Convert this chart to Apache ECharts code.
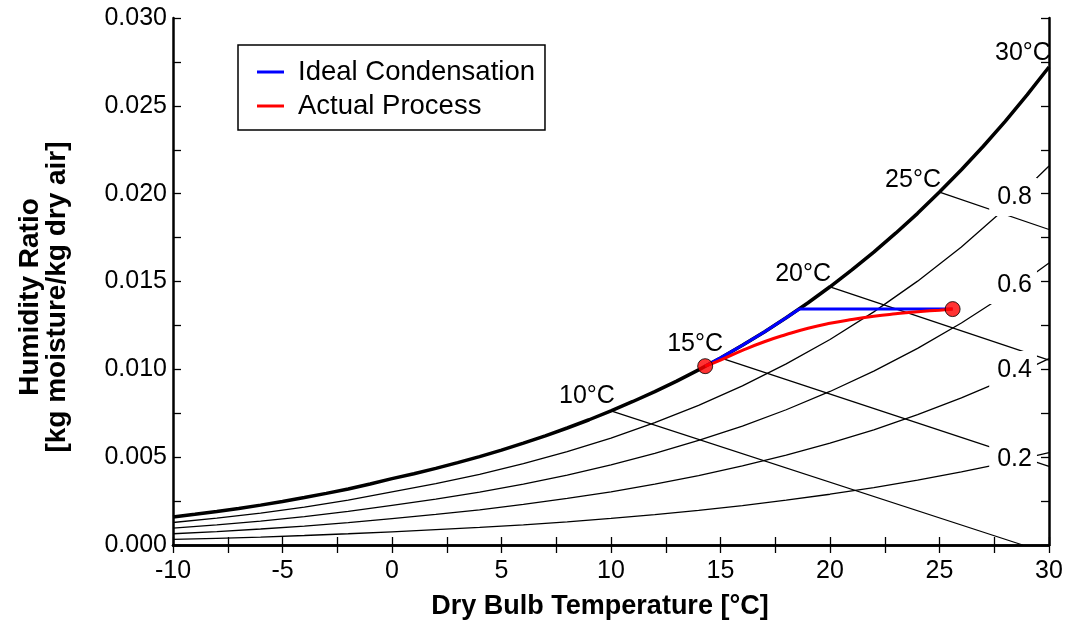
<!DOCTYPE html>
<html>
<head>
<meta charset="utf-8">
<script src="https://cdn.jsdelivr.net/npm/echarts@6/dist/echarts.min.js"></script>
<style>html,body{margin:0;padding:0;background:#fff}#c{width:1067px;height:630px}</style>
</head>
<body>
<div id="c"></div>
<script>
// ---- data ----
const satT = [-10,-9,-8,-7,-6,-5,-4,-3,-2,-1,0,1,2,3,4,5,6,7,8,9,10,11,12,13,14,15,16,17,18,19,20,21,22,23,24,25,26,27,28,29,30];
const satW = [0.00160,0.00175,0.00191,0.00208,0.00227,0.00248,0.00270,0.00294,0.00319,0.00347,0.00378,0.00406,0.00436,0.00469,0.00503,0.00540,0.00580,0.00621,0.00666,0.00713,0.00763,0.00817,0.00873,0.00933,0.00997,0.01065,0.01137,0.01213,0.01294,0.01379,0.01470,0.01566,0.01667,0.01775,0.01888,0.02009,0.02136,0.02270,0.02412,0.02562,0.02721];
const rhT = [-10,-8,-6,-4,-2,0,2,4,6,8,10,12,14,16,18,20,22,24,26,28,30];
const rh80 = [0.00128,0.00153,0.00182,0.00216,0.00255,0.00302,0.00349,0.00402,0.00463,0.00531,0.00609,0.00697,0.00795,0.00906,0.01031,0.01170,0.01327,0.01502,0.01697,0.01915,0.02158];
const rh60 = [0.00096,0.00114,0.00136,0.00162,0.00191,0.00226,0.00261,0.00301,0.00346,0.00398,0.00456,0.00521,0.00595,0.00677,0.00770,0.00874,0.00990,0.01119,0.01264,0.01425,0.01605];
const rh40 = [0.00064,0.00076,0.00091,0.00108,0.00127,0.00150,0.00174,0.00200,0.00231,0.00265,0.00303,0.00346,0.00395,0.00450,0.00511,0.00580,0.00656,0.00742,0.00837,0.00943,0.01061];
const rh20 = [0.00032,0.00038,0.00045,0.00054,0.00064,0.00075,0.00087,0.00100,0.00115,0.00132,0.00151,0.00173,0.00197,0.00224,0.00255,0.00289,0.00327,0.00369,0.00416,0.00468,0.00526];
// constant wet-bulb lines: [start T, start w, end T, end w]
const wb10 = [10, 0.00763, 28.8, 0.0];
const wb15 = [15, 0.01065, 30, 0.00448];
const wb20 = [20, 0.01470, 30, 0.01052];
const wb25 = [25, 0.02009, 30, 0.01796];
// process paths
const idealT = [25.6, 18.6, 18, 17, 16, 15, 14.3];
const idealW = [0.01343, 0.01343, 0.01294, 0.01213, 0.01137, 0.01065, 0.01018];
const actualT = [14.3, 15, 16, 17, 18, 19, 20, 21, 22, 23, 24, 25, 25.6];
const actualW = [0.01018, 0.01053, 0.01108, 0.01157, 0.01198, 0.01234, 0.01262, 0.01284, 0.01302, 0.01316, 0.01328, 0.01337, 0.01343];
const stateT = [14.3, 25.6];
const stateW = [0.01018, 0.01343];
// annotation labels
const wbLabels = [[8.9, 0.00848, '10°C'], [13.84, 0.01144, '15°C'], [18.77, 0.01543, '20°C'], [23.79, 0.02075, '25°C'], [28.81, 0.02801, '30°C']];
const rhLabels = [[28.36, 0.01981, '0.8'], [28.36, 0.01480, '0.6'], [28.36, 0.00996, '0.4'], [28.36, 0.00490, '0.2']];
const xTicks = [-10, -5, 0, 5, 10, 15, 20, 25, 30];
const yTicks = [0, 0.005, 0.010, 0.015, 0.020, 0.025, 0.030];

// ---- chart ----
const FONT = '"Liberation Sans", Arial, sans-serif';
const zip = (a, b) => a.map((v, i) => [v, b[i]]);
const seg = s => [[s[0], s[1]], [s[2], s[3]]];
const thin = (name, data) => ({
  name, type: 'line', data, symbol: 'none', silent: true, z: 2,
  lineStyle: { color: '#000', width: 1.3 }
});
const chart = echarts.init(document.getElementById('c'), null, { renderer: 'canvas' });
const axisCommonX = {
  type: 'value', min: xTicks[0], max: xTicks[xTicks.length - 1], interval: 5,
  axisLine: { show: true, lineStyle: { color: '#000', width: 2.5 } },
  axisTick: { show: true, inside: true, length: 8, lineStyle: { color: '#000', width: 1.3 } },
  minorTick: { show: true, splitNumber: 2, length: 8, lineStyle: { color: '#000', width: 1.3 } },
  splitLine: { show: false }
};
const axisCommonY = {
  type: 'value', min: yTicks[0], max: yTicks[yTicks.length - 1], interval: 0.005,
  axisLine: { show: true, onZero: false, lineStyle: { color: '#000', width: 2.5 } },
  axisTick: { show: true, inside: true, length: 8, lineStyle: { color: '#000', width: 1.3 } },
  minorTick: { show: true, splitNumber: 2, length: 8, lineStyle: { color: '#000', width: 1.3 } },
  splitLine: { show: false }
};
const labelSeries = (name, rows, z, extra) => ({
  name, type: 'scatter', data: rows.map(d => ({ value: [d[0], d[1]], name: d[2] })),
  symbol: 'circle', symbolSize: 0, itemStyle: { color: '#000', opacity: 1 }, silent: true, z, clip: false,
  label: Object.assign({ show: true, position: 'inside', formatter: p => p.name, color: '#000', opacity: 1,
    fontSize: 25, fontFamily: FONT }, extra)
});
chart.setOption({
  animation: false,
  backgroundColor: '#fff',
  textStyle: { fontFamily: FONT },
  grid: { left: 173, right: 18, top: 18, bottom: 85 },
  xAxis: [
    Object.assign({}, axisCommonX, {
      position: 'bottom',
      axisLabel: { color: '#000', fontSize: 25, margin: 14, fontFamily: FONT }
    }),
    Object.assign({}, axisCommonX, { position: 'top', axisLabel: { show: false } })
  ],
  yAxis: [
    Object.assign({}, axisCommonY, {
      position: 'left',
      axisLabel: { color: '#000', fontSize: 25, margin: 6, fontFamily: FONT, formatter: v => v.toFixed(3) }
    }),
    Object.assign({}, axisCommonY, { position: 'right', axisLabel: { show: false } })
  ],
  legend: {
    orient: 'vertical', left: 238, top: 45,
    padding: [13, 10, 10, 19],
    itemGap: 6, itemWidth: 27, itemHeight: 3,
    backgroundColor: '#fff', borderColor: '#000', borderWidth: 1.5,
    textStyle: { color: '#000', fontSize: 27.5, fontFamily: FONT, lineHeight: 27, padding: [0, 0, 0, 9] },
    data: [{ name: 'Ideal Condensation', icon: 'rect' }, { name: 'Actual Process', icon: 'rect' }],
    z: 10
  },
  graphic: [
    { type: 'text', position: [600, 607],
      style: { text: 'Dry Bulb Temperature [°C]', font: 'bold 27px ' + FONT, fill: '#000', textAlign: 'center', textVerticalAlign: 'middle' } },
    { type: 'text', position: [44, 297], rotation: Math.PI / 2,
      style: { text: 'Humidity Ratio\n[kg moisture/kg dry air]', font: 'bold 28px ' + FONT, fill: '#000', textAlign: 'center', textVerticalAlign: 'middle', lineHeight: 27 } }
  ],
  series: [
    thin('RH 0.8', zip(rhT, rh80)),
    thin('RH 0.6', zip(rhT, rh60)),
    thin('RH 0.4', zip(rhT, rh40)),
    thin('RH 0.2', zip(rhT, rh20)),
    thin('Twb 10', seg(wb10)),
    thin('Twb 15', seg(wb15)),
    thin('Twb 20', seg(wb20)),
    thin('Twb 25', seg(wb25)),
    labelSeries('RH labels', rhLabels, 4, { backgroundColor: '#fff', padding: [7, 5, 6, 8] }),
    {
      name: 'Saturation', type: 'line', data: zip(satT, satW), symbol: 'none', silent: true, z: 5,
      lineStyle: { color: '#000', width: 3.5 }
    },
    labelSeries('Wet bulb labels', wbLabels, 6, {}),
    {
      name: 'Ideal Condensation', type: 'line', data: zip(idealT, idealW), symbol: 'none', z: 7,
      itemStyle: { color: '#0000ff' }, lineStyle: { color: '#0000ff', width: 3 }
    },
    {
      name: 'Actual Process', type: 'line', data: zip(actualT, actualW), symbol: 'none', smooth: true, z: 8,
      itemStyle: { color: '#ff0000' }, lineStyle: { color: '#ff0000', width: 3 }
    },
    {
      name: 'States', type: 'scatter', data: zip(stateT, stateW), symbol: 'circle', symbolSize: 15, z: 9,
      itemStyle: { color: '#ff0000', borderColor: '#000', borderWidth: 1 }
    }
  ]
});
</script>
</body>
</html>
